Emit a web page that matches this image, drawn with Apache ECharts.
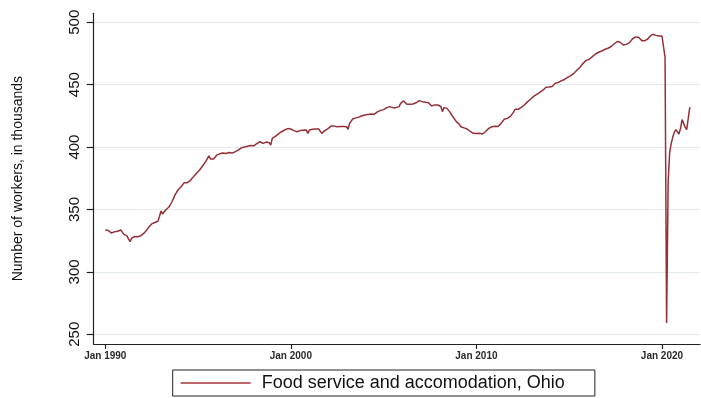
<!DOCTYPE html>
<html>
<head>
<meta charset="utf-8">
<script src="https://cdn.jsdelivr.net/npm/echarts@6/dist/echarts.min.js"></script>
<style>
  html, body { margin: 0; padding: 0; background: #ffffff; }
  #chart { width: 701px; height: 398px; }
</style>
</head>
<body>
<div id="chart"></div>
<script>
// Monthly employment (thousands), food service and accommodation, Ohio.
// Each decade array starts in January of its first year.
const seriesName = 'Food service and accomodation, Ohio';
const startYear = 1990;

const workers1990s = [
  333.5, 333.8, 333.2, 332.5, 331.0, 331.5, 332.2, 333.6, 332.6, 331.8, 333.6, 332.5,
  330.0, 329.5, 328.8, 326.5, 324.2, 326.8, 327.7, 328.4, 328.8, 328.2, 327.7, 329.0,
  330.0, 331.0, 332.6, 333.8, 335.7, 337.0, 338.4, 339.0, 339.6, 340.2, 340.5, 344.2,
  348.8, 346.4, 347.5, 349.6, 350.5, 351.8, 353.6, 356.0, 358.5, 361.6, 363.5, 365.6,
  366.8, 368.2, 369.6, 371.5, 371.3, 371.5, 371.6, 373.2, 374.8, 376.3, 377.5, 379.0,
  380.3, 381.6, 383.0, 385.0, 385.7, 388.5, 389.7, 392.9, 390.5, 389.7, 390.5, 391.0,
  393.5, 395.0, 394.6, 395.0, 395.3, 395.0, 394.8, 395.5, 395.6, 394.5, 395.2, 395.8,
  396.3, 397.0, 397.6, 399.0, 399.4, 399.8, 400.0, 399.2, 400.6, 402.0, 401.2, 400.3,
  401.0, 402.2, 402.8, 403.5, 404.3, 403.6, 403.0, 403.6, 404.0, 404.3, 403.5, 401.7,
  407.0, 407.6, 408.6, 409.7, 410.6, 411.5, 412.3, 413.0, 413.7, 414.2, 414.8, 415.5
];

const workers2000s = [
  414.5, 413.7, 413.2, 412.8, 412.3, 412.7, 413.2, 413.7, 413.5, 413.7, 413.7, 411.0,
  413.7, 413.9, 414.2, 414.5, 414.5, 414.3, 414.5, 414.5, 411.0, 412.5, 413.2, 413.7,
  414.8, 415.8, 416.8, 417.2, 416.8, 416.5, 416.3, 416.3, 416.5, 416.3, 416.4, 416.3,
  416.3, 414.3, 419.0, 420.6, 422.5, 423.0, 423.4, 423.8, 424.0, 424.5, 425.1, 425.7,
  425.7, 426.3, 426.2, 426.3, 426.5, 426.3, 426.4, 427.2, 428.2, 428.9, 429.4, 430.0,
  430.0, 430.8, 431.6, 433.2, 432.4, 431.6, 431.6, 431.8, 431.6, 431.6, 432.4, 435.0,
  435.0, 437.0, 435.5, 434.3, 434.3, 434.3, 434.3, 434.5, 435.1, 435.5, 436.4, 437.2,
  438.5, 436.4, 436.1, 435.9, 435.9, 435.5, 434.3, 433.0, 431.6, 433.7, 433.7, 433.7,
  433.7, 432.5, 428.4, 431.6, 431.2, 431.0, 429.5, 427.8, 425.7, 424.0, 422.2, 420.4,
  419.5, 418.2, 416.3, 415.8, 415.4, 415.0, 414.5, 413.5, 412.5, 411.5, 411.0, 411.0
];

const workers2010s = [
  410.8, 410.8, 411.0, 410.5, 410.5, 411.2, 412.5, 413.8, 415.0, 415.6, 416.3, 416.9,
  416.6, 416.3, 416.5, 417.5, 419.0, 420.4, 422.3, 422.8, 423.0, 423.5, 424.6, 425.7,
  428.0, 430.3, 431.6, 430.3, 431.0, 431.8, 432.8, 433.7, 435.0, 436.2, 437.2, 438.3,
  439.2, 440.6, 441.7, 442.3, 443.5, 443.8, 444.4, 445.6, 446.8, 448.0, 448.4, 448.2,
  447.9, 448.6, 449.8, 451.1, 451.4, 451.8, 452.6, 453.2, 453.4, 454.2, 455.0, 455.8,
  456.4, 457.3, 458.0, 459.1, 460.5, 461.5, 462.3, 464.0, 465.5, 467.1, 468.3, 469.5,
  469.8, 470.4, 471.2, 472.5, 473.5, 474.6, 475.3, 476.0, 476.4, 477.0, 477.8, 478.2,
  478.4, 479.2, 479.8, 480.4, 481.4, 482.6, 483.6, 484.6, 485.3, 484.0, 482.8, 481.8,
  481.8, 482.3, 483.0, 483.7, 485.2, 486.8, 488.0, 488.3, 488.5, 487.8, 486.5, 485.3,
  485.3, 485.3, 485.8, 486.8, 488.5, 489.5, 490.4, 490.0, 489.5, 489.0, 489.0, 489.0
];

const workers2020s = [
  489.0, 488.5, 472.0, 259.0, 372.0, 396.0, 403.0, 408.0, 412.0, 414.0, 415.0, 410.5,
  415.0, 422.0, 419.0, 416.0, 414.0, 423.0, 432.0
];

// Axis ticks
const xTickYears = [1990, 2000, 2010, 2020];
const xTickLabels = ['Jan 1990', 'Jan 2000', 'Jan 2010', 'Jan 2020'];
const yTicks = [250, 300, 350, 400, 450, 500];

// Build [decimal year, value] pairs, one per month
const monthly = [].concat(workers1990s, workers2000s, workers2010s, workers2020s);
const points = monthly.map((v, i) => [startYear + i / 12, v]);

const lineColor = '#953038';
const fontFamily = '"Liberation Sans", Arial, Helvetica, sans-serif';

const chart = echarts.init(document.getElementById('chart'), null, { renderer: 'canvas' });

chart.setOption({
  animation: false,
  backgroundColor: '#ffffff',
  textStyle: { fontFamily: fontFamily },
  grid: {
    left: 93.7,
    top: 13.3,
    right: 1,
    bottom: 54,
    containLabel: false,
    outerBoundsMode: 'none'
  },
  xAxis: {
    type: 'value',
    min: 1989.375,
    max: 2022.05,
    axisLine: { show: true, onZero: false, lineStyle: { color: '#222', width: 1.2 } },
    axisTick: {
      show: true,
      length: 5,
      customValues: xTickYears,
      lineStyle: { color: '#222', width: 1.2 }
    },
    axisLabel: {
      customValues: xTickYears,
      formatter: (v) => xTickLabels[xTickYears.indexOf(Math.round(v))] || '',
      margin: 7,
      fontSize: 10,
      fontWeight: 'bold',
      color: '#2a2a2a',
      fontFamily: fontFamily
    },
    splitLine: { show: false }
  },
  yAxis: {
    type: 'value',
    min: 242.2,
    max: 507.2,
    name: 'Number of workers, in thousands',
    nameLocation: 'middle',
    nameRotate: 90,
    nameGap: 69,
    nameTextStyle: { fontSize: 14, color: '#111', fontFamily: fontFamily },
    axisLine: { show: true, onZero: false, lineStyle: { color: '#222', width: 1.2 } },
    axisTick: {
      show: true,
      length: 7,
      customValues: yTicks,
      lineStyle: { color: '#222', width: 1.2 }
    },
    axisLabel: {
      customValues: yTicks,
      rotate: 90,
      margin: 11,
      fontSize: 15,
      color: '#111',
      fontFamily: fontFamily
    },
    splitLine: {
      show: true,
      lineStyle: { color: '#e3ebef', width: 1.2 }
    }
  },
  legend: {
    show: true,
    left: 172.7,
    top: 370,
    orient: 'horizontal',
    padding: [4, 30, 4, 8],
    borderColor: '#222',
    borderWidth: 1,
    itemWidth: 70,
    itemHeight: 2,
    icon: 'rect',
    itemStyle: { color: '#c0666d' },
    textStyle: {
      fontSize: 18,
      color: '#111',
      fontFamily: fontFamily,
      padding: [0, 0, 0, 6]
    },
    data: [seriesName]
  },
  series: [{
    name: seriesName,
    type: 'line',
    data: points,
    showSymbol: false,
    symbol: 'none',
    lineStyle: { color: lineColor, width: 1.5 },
    itemStyle: { color: lineColor }
  }]
});
</script>
</body>
</html>
